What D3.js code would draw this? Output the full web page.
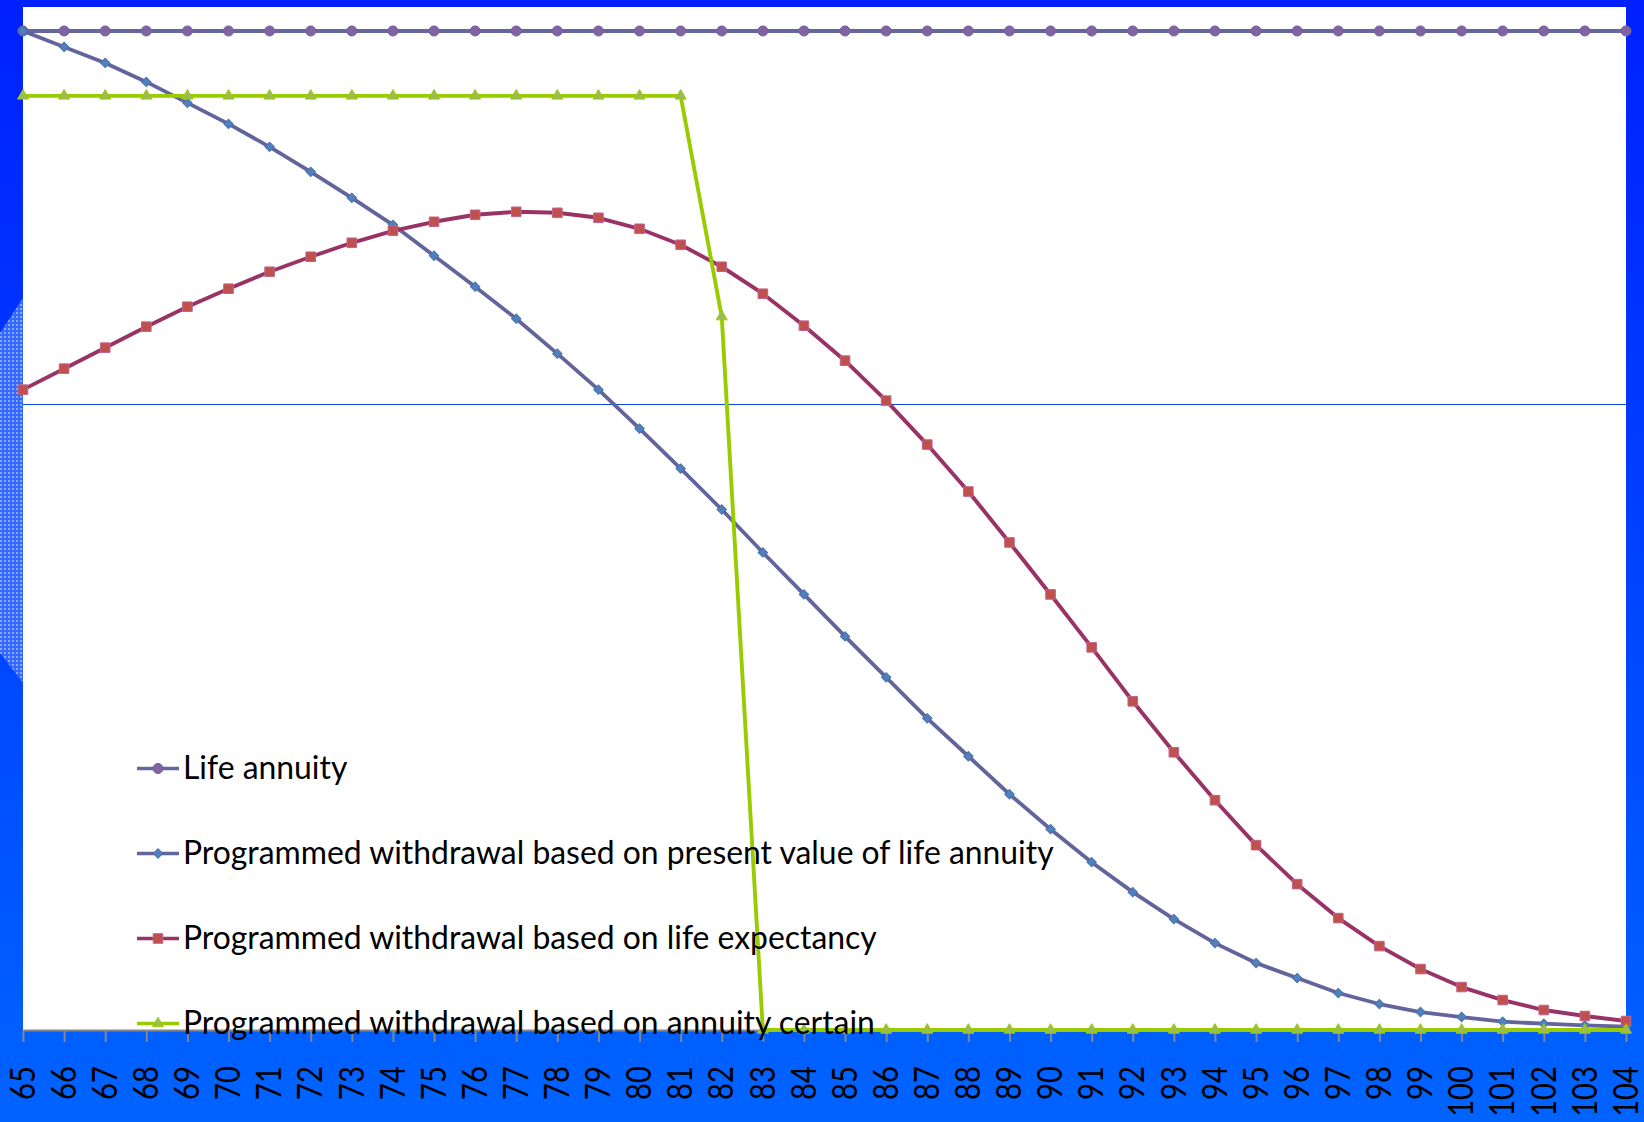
<!DOCTYPE html>
<html>
<head>
<meta charset="utf-8">
<script src="https://cdn.jsdelivr.net/npm/d3@7"></script>
<style>
  html, body { margin: 0; padding: 0; background: #0040ff; overflow: hidden; }
  svg { display: block; }
</style>
</head>
<body>
<svg id="chart" width="1644" height="1122"></svg>
<script>
// ---------------- DATA ----------------
const ages = [65,66,67,68,69,70,71,72,73,74,75,76,77,78,79,80,81,82,83,84,
              85,86,87,88,89,90,91,92,93,94,95,96,97,98,99,100,101,102,103,104];

const seriesNames = [
  "Life annuity",
  "Programmed withdrawal based on present value of life annuity",
  "Programmed withdrawal based on life expectancy",
  "Programmed withdrawal based on annuity certain"
];

const lifeAnnuity = [100,100,100,100,100,100,100,100,100,100,
                     100,100,100,100,100,100,100,100,100,100,
                     100,100,100,100,100,100,100,100,100,100,
                     100,100,100,100,100,100,100,100,100,100];

const pvLifeAnnuity = [100,98.4,96.8,94.9,92.8,90.7,88.4,85.9,83.3,80.6,
                       77.5,74.4,71.2,67.7,64.1,60.2,56.2,52.1,47.8,43.6,
                       39.4,35.3,31.2,27.4,23.6,20.1,16.8,13.8,11.1,8.7,
                       6.7,5.2,3.7,2.6,1.8,1.3,0.83,0.63,0.47,0.33];

const lifeExpectancy = [64.1,66.2,68.3,70.4,72.4,74.2,75.9,77.4,78.8,80.0,
                        80.9,81.6,81.9,81.8,81.3,80.2,78.6,76.4,73.7,70.5,
                        67.0,63.0,58.6,53.9,48.8,43.6,38.3,32.9,27.8,23.0,
                        18.5,14.6,11.2,8.4,6.1,4.3,3.0,2.0,1.4,0.9];

const annuityCertain = [93.5,93.5,93.5,93.5,93.5,93.5,93.5,93.5,93.5,93.5,
                        93.5,93.5,93.5,93.5,93.5,93.5,93.5,71.4,0,0,
                        0,0,0,0,0,0,0,0,0,0,
                        0,0,0,0,0,0,0,0,0,0];

// ---------------- LAYOUT ----------------
const W = 1644, H = 1122;
const plot = { left: 23, right: 1626, top: 7, bottom: 1030 };

const svg = d3.select("#chart");
const defs = svg.append("defs");

const grad = defs.append("linearGradient").attr("id", "bg")
  .attr("x1", 0).attr("y1", 0).attr("x2", 0).attr("y2", 1);
grad.append("stop").attr("offset", "0%").attr("stop-color", "#0020ff");
grad.append("stop").attr("offset", "100%").attr("stop-color", "#0064ff");

const pat = defs.append("pattern").attr("id", "dots")
  .attr("width", 4).attr("height", 4).attr("patternUnits", "userSpaceOnUse");
pat.append("rect").attr("width", 4).attr("height", 4).attr("fill", "#3468ff");
pat.append("rect").attr("x", 0).attr("y", 0).attr("width", 2).attr("height", 2).attr("fill", "#8aa8ff");

svg.append("rect").attr("width", W).attr("height", H).attr("fill", "url(#bg)");
svg.append("polygon")
  .attr("points", "0,333 23,298 23,683 0,653")
  .attr("fill", "url(#dots)");

svg.append("rect")
  .attr("x", plot.left).attr("y", plot.top)
  .attr("width", plot.right - plot.left).attr("height", plot.bottom - plot.top)
  .attr("fill", "#ffffff");

// thin blue decorative rule across the plot
svg.append("line")
  .attr("x1", plot.left).attr("x2", plot.right)
  .attr("y1", 404.5).attr("y2", 404.5)
  .attr("stroke", "#1144dd").attr("stroke-width", 1.2);

// ---------------- SCALES ----------------
const x = d3.scalePoint().domain(ages).range([plot.left, plot.right]);
const y = d3.scaleLinear().domain([0, 102.4]).range([plot.bottom, plot.top]);

// ---------------- AXIS ----------------
const axisG = svg.append("g")
  .attr("transform", `translate(0,${plot.bottom})`)
  .call(d3.axisBottom(x).tickSize(12).tickSizeOuter(0).tickFormat(d => String(d)));
axisG.select(".domain").attr("stroke", "#868686").attr("stroke-width", 2);
axisG.selectAll(".tick line").attr("stroke", "#868686").attr("stroke-width", 2);
axisG.selectAll(".tick text")
  .attr("fill", "#000")
  .attr("font-family", "Lato, 'Open Sans', sans-serif")
  .attr("font-size", 34)
  .attr("text-anchor", "end")
  .attr("x", -36 / 0.86)
  .attr("y", 0)
  .attr("dy", "0.33em")
  .attr("transform", "rotate(-90) scale(0.86,1)");

// ---------------- SERIES ----------------
const series = [
  { name: seriesNames[0], values: lifeAnnuity, line: "#66669c", lw: 3.8,
    sym: d3.symbolCircle, size: 80, rot: 0, fill: "#8064a2", stroke: "#7462a0" },
  { name: seriesNames[1], values: pvLifeAnnuity, line: "#63649c", lw: 3.8,
    sym: d3.symbolSquare, size: 44, rot: 45, fill: "#4f81bd", stroke: "#4a70ac" },
  { name: seriesNames[2], values: lifeExpectancy, line: "#993366", lw: 3.9,
    sym: d3.symbolSquare, size: 92, rot: 0, fill: "#c0504d", stroke: "#c0648c" },
  { name: seriesNames[3], values: annuityCertain, line: "#99cc00", lw: 3.9,
    sym: d3.symbolTriangle, size: 52, rot: 0, fill: "#9bbb59", stroke: "#99cc00" }
];

const lineGen = d3.line().x(d => x(d[0])).y(d => y(d[1]));

series.forEach(s => {
  const pts = ages.map((a, i) => [a, s.values[i]]);
  const g = svg.append("g");
  g.append("path").datum(pts)
    .attr("d", lineGen)
    .attr("fill", "none")
    .attr("stroke", s.line)
    .attr("stroke-width", s.lw)
    .attr("stroke-linejoin", "round");
  g.selectAll("path.m").data(pts).enter().append("path")
    .attr("class", "m")
    .attr("d", d3.symbol().type(s.sym).size(s.size))
    .attr("transform", d => `translate(${x(d[0])},${y(d[1])}) rotate(${s.rot})`)
    .attr("fill", s.fill)
    .attr("stroke", s.stroke)
    .attr("stroke-width", 1);
});

// ---------------- LEGEND ----------------
const legendY = [768.5, 853.5, 938.5, 1023.5];
const lg = svg.append("g");
const legendTexts = [];
series.forEach((s, i) => {
  const gy = legendY[i];
  lg.append("line")
    .attr("x1", 137).attr("x2", 179).attr("y1", gy).attr("y2", gy)
    .attr("stroke", s.line).attr("stroke-width", 3.6);
  lg.append("path")
    .attr("d", d3.symbol().type(s.sym).size(s.size))
    .attr("transform", `translate(158,${gy}) rotate(${s.rot})`)
    .attr("fill", s.fill).attr("stroke", s.stroke).attr("stroke-width", 1);
  const t = lg.append("text")
    .attr("x", 183).attr("y", gy + 10.5)
    .attr("fill", "#000")
    .attr("font-family", "Lato, 'Open Sans', sans-serif")
    .attr("font-size", 30)
    .text(s.name);
  legendTexts.push(t);
});
// fit longest legend entry to its width in the reference (~871px)
const w1 = legendTexts[1].node().getComputedTextLength();
const fs = 30 * 871 / w1;
legendTexts.forEach(t => t.attr("font-size", fs.toFixed(2)));
</script>
</body>
</html>
